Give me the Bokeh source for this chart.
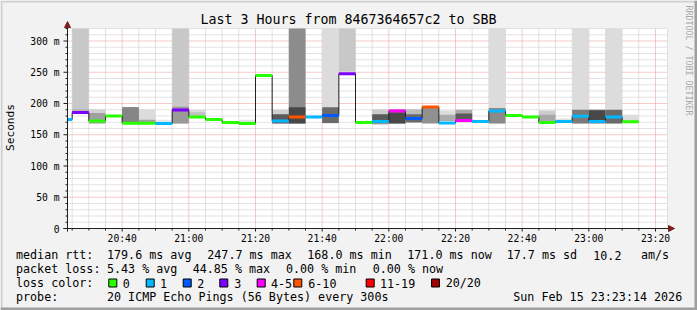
import math
from bokeh.plotting import figure
from bokeh.models import Range1d, Label, Arrow, NormalHead, ColumnDataSource
from bokeh.embed import file_html
from bokeh.resources import INLINE

# ---------------- data ----------------
step_start = ["20:20", "20:25", "20:30", "20:35", "20:40", "20:45", "20:50", "20:55",
              "21:00", "21:05", "21:10", "21:15", "21:20", "21:25", "21:30", "21:35",
              "21:40", "21:45", "21:50", "21:55", "22:00", "22:05", "22:10", "22:15",
              "22:20", "22:25", "22:30", "22:35", "22:40", "22:45", "22:50", "22:55",
              "23:00", "23:05", "23:10"]
median_ms = [174.4, 185.5, 172.2, 180.0, 168.5, 168.5, 168.0, 189.6,
             178.5, 174.4, 169.6, 168.0, 245.0, 172.0, 178.5, 178.5,
             181.0, 247.7, 169.6, 171.4, 188.0, 176.0, 194.6, 169.0,
             172.7, 171.4, 188.0, 180.8, 178.5, 169.6, 171.4, 179.7,
             171.4, 178.5, 171.0]
# index into loss_labels
loss_bin = [1, 3, 0, 0, 0, 0, 1, 3,
            0, 0, 0, 0, 0, 1, 5, 1,
            2, 3, 0, 1, 4, 2, 5, 1,
            4, 1, 1, 0, 0, 0, 1, 1,
            1, 1, 0]
# smoke: outer band (all pings) and inner band (core pings); None = no smoke
smoke_outer_lo = [None, 186, 168, None, 168, 168, 168, 168,
                  178, None, None, 168, None, 168, 168, 178,
                  168, 251, 169, 166, 168, 169, 168, 172,
                  170, None, 168, None, None, 170, 171, 168,
                  168, 168, 171]
smoke_outer_hi = [None, 400, 191, None, 194.6, 191, 174, 400,
                  190, None, None, 174, None, 190, 400, 182,
                  400, 400, 172, 191, 191, 191, 194.6, 189,
                  190, None, 400, None, None, 189, 176, 400,
                  190, 400, 182]
smoke_outer_shade = [None, "#c8c8c8", "#d2d2d2", None, "#8c8c8c", "#dcdcdc", "#e6e6e6", "#c8c8c8",
                     "#dcdcdc", None, None, "#e0e0e0", None, "#d0d0d0", "#8c8c8c", "#e6e6e6",
                     "#dcdcdc", "#c8c8c8", "#e0e0e0", "#cccccc", "#a0a0a0", "#bcbcbc", "#909090", "#dcdcdc",
                     "#aaaaaa", None, "#dcdcdc", None, None, "#cccccc", "#e0e0e0", "#dcdcdc",
                     "#6a6a6a", "#dcdcdc", "#dcdcdc"]
smoke_inner_lo = [None, 186, 168, None, 168, 168, None, 168,
                  180, None, None, None, None, 168, 168, None,
                  169, None, None, 168, 168, 170, None, 172,
                  173, None, 168, None, None, 171, None, 168,
                  170, 168, None]
smoke_inner_hi = [None, 191, 185, None, 192, 174, None, 195,
                  186, None, None, None, None, 183, 194, None,
                  194, None, None, 183, 186, 183, None, 182,
                  184, None, 193, None, None, 182, None, 190,
                  189, 190, None]
smoke_inner_shade = [None, "#b4b4b4", "#a0a0a0", None, "#858585", "#a0a0a0", None, "#9a9a9a",
                     "#c0c0c0", None, None, None, None, "#5a5a5a", "#484848", None,
                     "#6a6a6a", None, None, "#5a5a5a", "#484848", "#6a6a6a", None, "#acacac",
                     "#5a5a5a", None, "#8a8a8a", None, None, "#a8a8a8", None, "#7a7a7a",
                     "#484848", "#6a6a6a", None]

loss_labels = ["0", "1", "2", "3", "4-5", "6-10", "11-19", "20/20"]
loss_colors = ["#26ff00", "#00b8ff", "#0059ff", "#7e00ff", "#ff00ff", "#ff5500", "#ff0000", "#a10000"]

y_ticks = [0, 50, 100, 150, 200, 250, 300]
y_tick_labels = ["0", "50 m", "100 m", "150 m", "200 m", "250 m", "300 m"]
x_tick_labels = ["20:40", "21:00", "21:20", "21:40", "22:00", "22:20", "22:40", "23:00", "23:20"]

title_text = "Last 3 Hours from 8467364657c2 to SBB"
rtt_texts = ["median rtt:", "179.6 ms avg", "247.7 ms max", "168.0 ms min", "171.0 ms now", "17.7 ms sd", "10.2", "am/s"]
loss_texts = ["packet loss:", "5.43 % avg", "44.85 % max", "0.00 % min", "0.00 % now"]
probe_texts = ["probe:", "20 ICMP Echo Pings (56 Bytes) every 300s", "Sun Feb 15 23:23:14 2026"]

# ---------------- scales ----------------
def minutes(hhmm):
    h, m = hhmm.split(":")
    return (int(h) - 20) * 60 + int(m)

STEP = 5
X0, X1 = 23.6, 203.6       # time window shown (minutes after 20:00)
Y0, Y1 = 0.0, 320.0        # value window shown (ms)
PL, PR, PT, PB = 67, 667, 28, 228   # plot area inside the canvas
W, H = 697, 310
FONT = "DejaVu Sans Mono"
SX = (X1 - X0) / (PR - PL)
SY = (Y1 - Y0) / (PB - PT)

def X(px):  # canvas pixel -> data x
    return X0 + (px - PL) * SX

def Y(py):  # canvas pixel -> data y
    return Y0 + (PB - py) * SY

p = figure(width=W, height=H, x_range=Range1d(X(0), X(W)), y_range=Range1d(Y(H), Y(0)),
           output_backend="svg", toolbar_location=None,
           min_border_left=0, min_border_right=0, min_border_top=0, min_border_bottom=0,
           background_fill_color="#f2f2f2", border_fill_color="#f2f2f2")
p.outline_line_color = None
p.axis.visible = False
p.grid.visible = False

# canvas of the plot area
p.quad(left=[X0], right=[X1], bottom=[Y0], top=[Y1], fill_color="white", line_color=None)

# ---------------- grid ----------------
x_major = [minutes(t) for t in x_tick_labels]
x_minor = [m for m in range(25, 205, 5) if m not in x_major]
y_minor = [v for v in range(10, 321, 10) if v not in y_ticks]
gcol, mcol = "#c6c6c6", "#eb9595"
p.segment(x0=x_minor + [X1], x1=x_minor + [X1], y0=[Y0] * (len(x_minor) + 1), y1=[Y1] * (len(x_minor) + 1),
          line_color=gcol, line_dash="1 1", line_width=1)
p.segment(x0=[X0] * len(y_minor), x1=[X1] * len(y_minor), y0=y_minor, y1=y_minor,
          line_color=gcol, line_dash="1 1", line_width=1)
p.segment(x0=x_major, x1=x_major, y0=[Y0] * len(x_major), y1=[Y1] * len(x_major),
          line_color=mcol, line_dash="1 1", line_width=1)
p.segment(x0=[X0] * len(y_ticks[1:]), x1=[X1] * len(y_ticks[1:]), y0=y_ticks[1:], y1=y_ticks[1:],
          line_color=mcol, line_dash="1 1", line_width=1)

# ---------------- smoke ----------------
starts = [minutes(t) for t in step_start]

def band(lo, hi, shade):
    d = dict(left=[], right=[], bottom=[], top=[], color=[])
    for s, a, b, c in zip(starts, lo, hi, shade):
        if a is None:
            continue
        d["left"].append(max(s, X0)); d["right"].append(s + STEP)
        d["bottom"].append(a); d["top"].append(min(b, Y1)); d["color"].append(c)
    return ColumnDataSource(d)

p.quad(left="left", right="right", bottom="bottom", top="top", color="color",
       source=band(smoke_outer_lo, smoke_outer_hi, smoke_outer_shade), line_color=None)
p.quad(left="left", right="right", bottom="bottom", top="top", color="color",
       source=band(smoke_inner_lo, smoke_inner_hi, smoke_inner_shade), line_color=None)

# ---------------- median ----------------
step_x = [max(s, X0) for s in starts] + [starts[-1] + STEP]
p.step(x=step_x, y=median_ms + [median_ms[-1]], mode="after", line_color="#202020", line_width=1)
half = 2.4
med_src = ColumnDataSource(dict(
    left=[max(s, X0) for s in starts], right=[s + STEP for s in starts],
    bottom=[m - half for m in median_ms], top=[m + half for m in median_ms],
    color=[loss_colors[b] for b in loss_bin]))
p.quad(left="left", right="right", bottom="bottom", top="top", color="color",
       source=med_src, line_color=None)

# ---------------- axes ----------------
axis_col, arrow_col = "#1f1f1f", "#801f1f"
p.segment(x0=[X(PL - 4)] * len(y_ticks), x1=[X0] * len(y_ticks), y0=y_ticks, y1=y_ticks,
          line_color=axis_col)
p.segment(x0=[X(PL - 2)] * len(y_minor), x1=[X0] * len(y_minor), y0=y_minor, y1=y_minor,
          line_color=axis_col)
p.segment(x0=x_major, x1=x_major, y0=[Y(PB + 3)] * len(x_major), y1=[Y0] * len(x_major),
          line_color=axis_col)
p.segment(x0=x_minor, x1=x_minor, y0=[Y(PB + 2)] * len(x_minor), y1=[Y0] * len(x_minor),
          line_color=axis_col)
p.add_layout(Arrow(end=NormalHead(size=6, fill_color=arrow_col, line_color=arrow_col),
                   x_start=X0, y_start=Y(PB + 3), x_end=X0, y_end=Y(PT - 7),
                   line_color=axis_col, line_width=1))
p.add_layout(Arrow(end=NormalHead(size=6, fill_color=arrow_col, line_color=arrow_col),
                   x_start=X(PL - 4), y_start=Y0, x_end=X(PR + 7), y_end=Y0,
                   line_color=axis_col, line_width=1))

# ---------------- texts ----------------
def label(x, y, text, size="11.7px", align="left", angle=0.0, color="black"):
    p.add_layout(Label(x=x, y=y, text=text, text_font=FONT, text_font_size=size,
                       text_align=align, text_baseline="middle", angle=angle, text_color=color))

for v, t in zip(y_ticks, y_tick_labels):
    label(X(PL - 8), v, t, size="9.7px", align="right")
for m, t in zip(x_major, x_tick_labels):
    label(m, Y(237.5), t, size="9.7px", align="center")

label(X(348), Y(19), title_text, size="13.3px", align="center")
label(X(10), Y(127), "Seconds", size="11.2px", align="center", angle=math.pi / 2)
label(X(688), Y(5), "RRDTOOL / TOBI OETIKER", size="8.3px", angle=-math.pi / 2, color="#a8a8a8")

for t, px in zip(rtt_texts, [16, 107, 207.3, 307.3, 407.3, 506.7, 593.3, 641]):
    label(X(px - 0.5), Y(254.5), t)
for t, px in zip(loss_texts, [16, 107, 192.7, 286, 372.7]):
    label(X(px - 0.5), Y(268.5), t)
label(X(15.5), Y(282.5), "loss color:")
swatch_x = [108.3, 145.7, 182.7, 219.3, 256.7, 293.3, 365.7, 431]
text_x = [122.7, 160, 197.3, 234.3, 271, 308.3, 380, 445.7]
p.quad(left=[X(sx) for sx in swatch_x], right=[X(sx + 8) for sx in swatch_x],
       top=[Y(278.5)] * len(swatch_x), bottom=[Y(286.5)] * len(swatch_x),
       fill_color=loss_colors, line_color="black", line_width=1)
for tx, lab in zip(text_x, loss_labels):
    label(X(tx - 0.5), Y(282.5), lab)
for t, px in zip(probe_texts, [16, 107, 513.3]):
    label(X(px - 0.5), Y(296.5), t)

# ---------------- outer 3D frame ----------------
fr = [(0, W, 0, 2, "#cfcfcf"), (0, 2, 0, H, "#cfcfcf"),
      (0, W, H - 3, H, "#9e9e9e"), (W - 3, W, 0, H, "#9e9e9e")]
p.quad(left=[X(f[0]) for f in fr], right=[X(f[1]) for f in fr],
       top=[Y(f[2]) for f in fr], bottom=[Y(f[3]) for f in fr],
       fill_color=[f[4] for f in fr], line_color=None)

open("out.html", "w").write(file_html(p, INLINE))
